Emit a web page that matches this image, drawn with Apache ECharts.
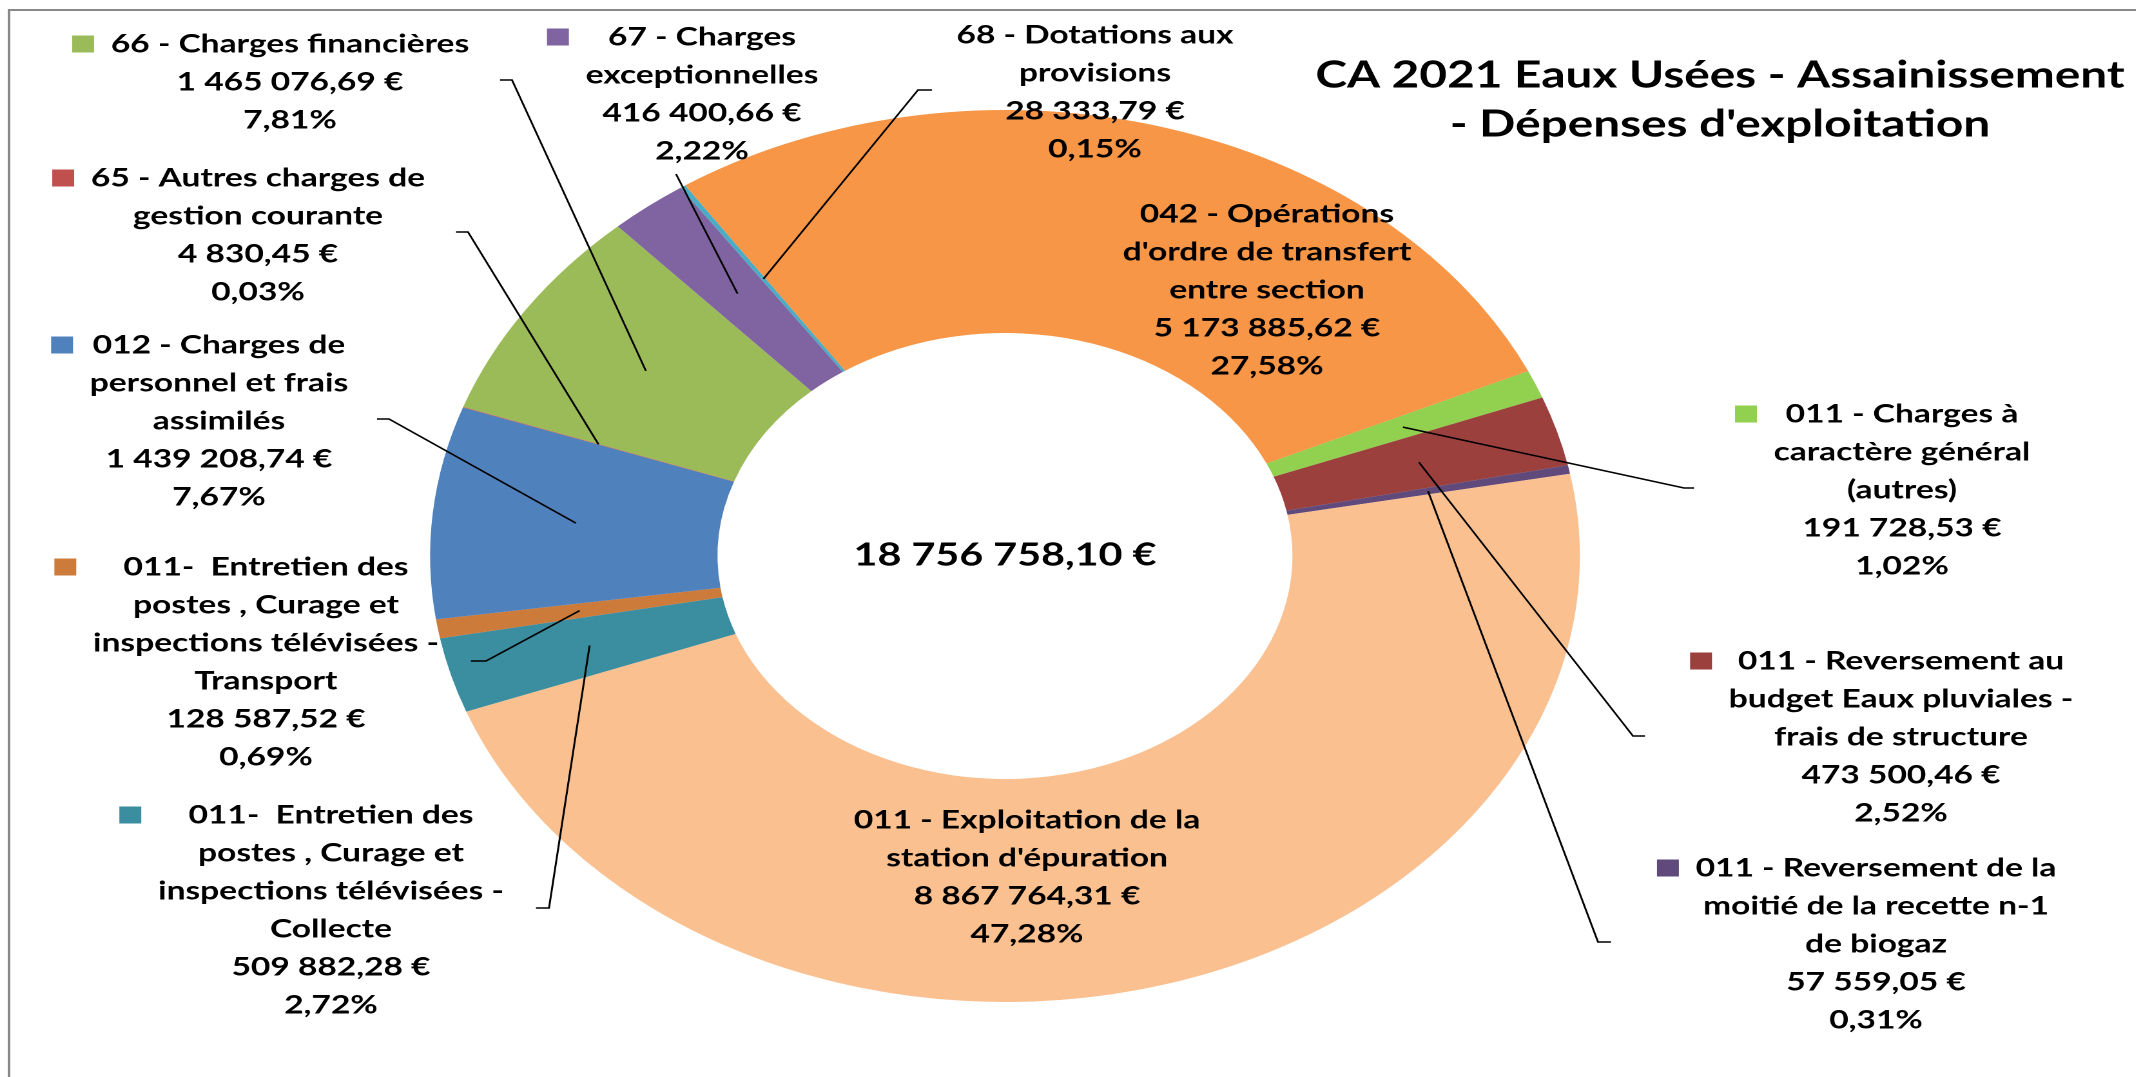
<!DOCTYPE html>
<html>
<head>
<meta charset="utf-8">
<title>CA 2021 Eaux Usées - Assainissement - Dépenses d'exploitation</title>
<script src="https://cdn.jsdelivr.net/npm/echarts@6/dist/echarts.min.js"></script>
<style>
	html, body { margin: 0; padding: 0; background: #fff; overflow: hidden; }
	/* le graphique d'origine est étiré horizontalement */
	#main { width: 1657px; height: 1077px; transform: scaleX(1.289); transform-origin: 0 0; }
</style>
</head>
<body>
<div id="main"></div>
<script>
var names = [
	'011 - Charges à\ncaractère général\n(autres)',
	'011 - Reversement au\nbudget Eaux pluviales -\nfrais de structure',
	'011 - Reversement de la\nmoitié de la recette n-1\nde biogaz',
	"011 - Exploitation de la\nstation d'épuration",
	'011-  Entretien des\npostes , Curage et\ninspections télévisées -\nCollecte',
	'011-  Entretien des\npostes , Curage et\ninspections télévisées -\nTransport',
	'012 - Charges de\npersonnel et frais\nassimilés',
	'65 - Autres charges de\ngestion courante',
	'66 - Charges financières',
	'67 - Charges\nexceptionnelles',
	'68 - Dotations aux\nprovisions',
	"042 - Opérations\nd'ordre de transfert\nentre section"
];
var values = [191728.53, 473500.46, 57559.05, 8867764.31, 509882.28, 128587.52,
	1439208.74, 4830.45, 1465076.69, 416400.66, 28333.79, 5173885.62];
var colors = ['#92D050', '#9C403E', '#604A7B', '#FAC090', '#3B8DA0', '#CD7B3B',
	'#4F81BD', '#C0504D', '#9BBB59', '#8064A2', '#4BACC6', '#F79646'];

var title = "CA 2021 Eaux Usées - Assainissement\n- Dépenses d'exploitation";

// mise en page (coordonnées de l'image finale, x divisé par K dans le canvas)
var K = 1.289;
var CX = 1005 / K, CY = 556;
var R_OUT = 446, R_IN = 223;
var START = 24.5;
var FONT = 'Lato, "Liberation Sans", sans-serif';
var labelPos = [[1902, 490], [1901, 737], [1876, 944], [1027, 877], [331, 910], [266, 662],
	[219, 421], [258, 235], [290, 82], [702, 94], [1095, 92], [1267, 290]];
var lineEnd = [
	[[1684, 488], [1694, 488]],
	[[1633, 736], [1645, 736]],
	[[1598, 942], [1611, 942]],
	null,
	[[549, 908], [536, 908]],
	[[486, 661], [471, 661]],
	[[389, 419], [377, 419]],
	[[468, 232], [456, 232]],
	[[512, 80], [500, 80]],
	[[676, 174], [676, 174]],
	[[918, 90], [932, 90]],
	null
];
var noKey = [3, 10, 11];

var total = 0;
values.forEach(function (v) { total += v; });

function fmtNum(v) {
	var parts = v.toFixed(2).split('.');
	return parts[0].replace(/\B(?=(\d{3})+(?!\d))/g, ' ') + ',' + parts[1];
}

function fmtPct(v) {
	return (v / total * 100).toFixed(2).replace('.', ',') + '%';
}

var rich = {
	g: { width: 13, align: 'left' },
	p: { width: 30, align: 'left' },
	q: { width: 30, align: 'right' }
};
colors.forEach(function (c, i) {
	rich['k' + i] = { width: 17, height: 17, backgroundColor: c, align: 'left' };
});

var pieData = [];
var labelData = [];
values.forEach(function (v, i) {
	pieData.push({ name: names[i], value: v });
	var item = { name: names[i], value: v };
	if (!lineEnd[i]) {
		item.labelLine = { show: false };
	}
	labelData.push(item);
});

var chart = echarts.init(document.getElementById('main'), null, { devicePixelRatio: 2 });

var option = {
	animation: false,
	backgroundColor: '#fff',
	color: colors,
	title: [{
		text: title,
		left: 1720 / K,
		top: 51,
		padding: 0,
		textAlign: 'center',
		textStyle: { fontFamily: FONT, fontSize: 37, fontWeight: 'bold', lineHeight: 49, color: '#000' }
	}, {
		text: fmtNum(total) + ' €',
		left: CX,
		top: 555,
		padding: 0,
		textAlign: 'center',
		textVerticalAlign: 'middle',
		textStyle: { fontFamily: FONT, fontSize: 32, fontWeight: 'bold', color: '#000' }
	}],
	graphic: [{
		type: 'rect',
		x: 7,
		y: 10,
		silent: true,
		shape: { x: 0, y: 0, width: 3000, height: 3000 },
		style: { fill: 'none', stroke: '#888', lineWidth: 2 }
	}],
	series: [{
		// les parts
		type: 'pie',
		silent: true,
		z: 2,
		center: [CX, CY],
		radius: [R_IN, R_OUT],
		startAngle: START,
		clockwise: true,
		itemStyle: { borderWidth: 0 },
		label: { show: false },
		labelLine: { show: false },
		data: pieData
	}, {
		// même anneau, transparent, pour dessiner étiquettes et traits par-dessus
		type: 'pie',
		silent: true,
		z: 3,
		center: [CX, CY],
		radius: [R_IN, R_OUT],
		startAngle: START,
		clockwise: true,
		avoidLabelOverlap: false,
		itemStyle: { color: 'rgba(0,0,0,0)', borderWidth: 0 },
		label: {
			show: true,
			position: 'outside',
			overflow: 'none',
			fontFamily: FONT,
			fontSize: 26,
			fontWeight: 'bold',
			lineHeight: 38,
			color: '#000',
			rich: rich,
			formatter: function (p) {
				var i = p.dataIndex;
				var lines = names[i].split('\n').concat([fmtNum(values[i]) + ' €', fmtPct(values[i])]);
				if (noKey.indexOf(i) >= 0) {
					return lines.join('\n');
				}
				return lines.map(function (l, j) {
					return (j === 0 ? '{k' + i + '|}{g|}' : '{p|}') + l + '{q|}';
				}).join('\n');
			}
		},
		labelLine: {
			show: true,
			lineStyle: { color: '#000', width: 1.5, opacity: 1 }
		},
		labelLayout: function (params) {
			var i = params.dataIndex;
			var pos = labelPos[i];
			var res = { x: pos[0] / K, y: pos[1], align: 'center', verticalAlign: 'middle' };
			var e = lineEnd[i];
			if (e && params.labelLinePoints) {
				// point d'ancrage : milieu de l'anneau, dans l'axe de la part
				var p0 = params.labelLinePoints[0];
				var dx = p0[0] - CX, dy = p0[1] - CY;
				var d = Math.sqrt(dx * dx + dy * dy);
				var rm = (R_OUT + R_IN) / 2;
				res.labelLinePoints = [
					[CX + dx / d * rm, CY + dy / d * rm],
					[e[0][0] / K, e[0][1]],
					[e[1][0] / K, e[1][1]]
				];
			}
			return res;
		},
		data: labelData
	}]
};

chart.setOption(option);
</script>
</body>
</html>
